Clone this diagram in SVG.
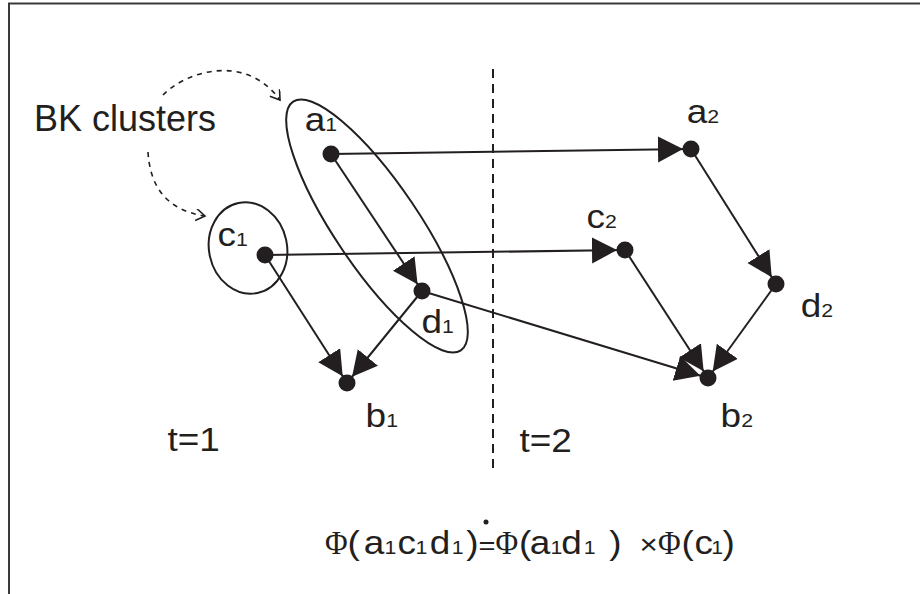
<svg xmlns="http://www.w3.org/2000/svg" width="920" height="594" viewBox="0 0 920 594">
<style>
text{font-family:"Liberation Sans",Arial,sans-serif;fill:#231f20}
.lbl{font-size:33px}
.sub{font-size:19px}
.phi{font-family:"Liberation Serif","Times New Roman",serif;font-size:31px}
.sm{font-size:28px}
.eq{font-size:26px}
.edge{stroke:#231f20;stroke-width:2;fill:none;marker-end:url(#ah)}
.dot{fill:#231f20}
.hint{stroke:#231f20;stroke-width:1.6;fill:none;stroke-dasharray:5 5;marker-end:url(#oh)}
.clu{stroke:#231f20;stroke-width:2;fill:none}
</style>
<defs>
<marker id="ah" markerUnits="userSpaceOnUse" markerWidth="40" markerHeight="30" refX="33" refY="13" orient="auto">
<path d="M0,0 L25,13 L0,26 z" fill="#231f20"/>
</marker>
<marker id="oh" markerUnits="userSpaceOnUse" markerWidth="20" markerHeight="20" refX="10" refY="6" orient="auto">
<path d="M1,0 L10,6 L1,12" fill="none" stroke="#231f20" stroke-width="1.6"/>
</marker>
</defs>
<rect width="920" height="594" fill="#fff"/>
<g id="frame" fill="none" stroke="#3a3a3a" stroke-width="2">
<path d="M9,594 V3.5 H920"/>
</g>
<g id="divider">
<line x1="493" y1="69" x2="493" y2="468" stroke="#231f20" stroke-width="2" stroke-dasharray="9 6"/>
</g>
<g id="clusters">
<ellipse class="clu" cx="377" cy="226" rx="150" ry="42" transform="rotate(56 377 226)"/>
<ellipse class="clu" cx="248" cy="248" rx="39" ry="46" transform="rotate(-12 248 248)"/>
</g>
<g id="connectors">
<line class="edge" x1="331" y1="154" x2="691" y2="149"/>
<line class="edge" x1="331" y1="154" x2="422" y2="291"/>
<line class="edge" x1="265" y1="255" x2="625" y2="250"/>
<line class="edge" x1="265" y1="255" x2="347" y2="383"/>
<line class="edge" x1="422" y1="291" x2="347" y2="383"/>
<line class="edge" x1="422" y1="291" x2="708" y2="378"/>
<line class="edge" x1="691" y1="149" x2="776" y2="284"/>
<line class="edge" x1="625" y1="250" x2="708" y2="378"/>
<line class="edge" x1="776" y1="284" x2="708" y2="378"/>
<path class="hint" d="M163,95 C185,72 245,52 280,100"/>
<path class="hint" d="M148,152 C150,185 165,210 205,216"/>
</g>
<g id="bk-label"><text x="34" y="131" style="font-size:36px">BK clusters</text></g>
<g id="a1"><circle class="dot" cx="331" cy="154" r="8.5"/><text class="lbl" transform="translate(304.7 131) scale(1.12 1)">a<tspan class="sub">1</tspan></text></g>
<g id="c1"><circle class="dot" cx="265" cy="255" r="8.5"/><text class="lbl" transform="translate(217.5 246) scale(1.12 1)">c<tspan class="sub">1</tspan></text></g>
<g id="d1"><circle class="dot" cx="422" cy="291" r="8.5"/><text class="lbl" transform="translate(421.5 333) scale(1.12 1)">d<tspan class="sub">1</tspan></text></g>
<g id="b1"><circle class="dot" cx="347" cy="383" r="8.5"/><text class="lbl" transform="translate(365.6 427) scale(1.12 1)">b<tspan class="sub">1</tspan></text></g>
<g id="a2"><circle class="dot" cx="691" cy="149" r="8.5"/><text class="lbl" transform="translate(686.7 123) scale(1.12 1)">a<tspan class="sub">2</tspan></text></g>
<g id="c2"><circle class="dot" cx="625" cy="250" r="8.5"/><text class="lbl" transform="translate(586.5 228) scale(1.12 1)">c<tspan class="sub">2</tspan></text></g>
<g id="d2"><circle class="dot" cx="776" cy="284" r="8.5"/><text class="lbl" transform="translate(800.8 317) scale(1.12 1)">d<tspan class="sub">2</tspan></text></g>
<g id="b2"><circle class="dot" cx="708" cy="378" r="8.5"/><text class="lbl" transform="translate(720.6 427) scale(1.12 1)">b<tspan class="sub">2</tspan></text></g>
<g id="t1"><text class="lbl" transform="translate(167.4 451) scale(1.12 1)">t=1</text></g>
<g id="t2"><text class="lbl" transform="translate(519.4 452) scale(1.12 1)">t=2</text></g>
<g id="formula">
<text class="phi" transform="translate(325 554) scale(1 1.12)">Φ</text>
<text class="phi" transform="translate(495.5 554) scale(1 1.12)">Φ</text>
<text class="phi" transform="translate(658 554) scale(1 1.12)">Φ</text>
<text class="lbl" transform="translate(0 554) scale(1.12 1)"><tspan x="310.2">(</tspan><tspan x="324.7">a</tspan><tspan class="sub" x="343.4">1</tspan><tspan x="354.9">c</tspan><tspan class="sub" x="371.1">1</tspan><tspan x="383.7">d</tspan><tspan class="sub" x="403.3">1</tspan><tspan x="416.2">)</tspan><tspan class="eq" x="427.2">=</tspan><tspan x="463.5">(</tspan><tspan x="473">a</tspan><tspan class="sub" x="491.5">1</tspan><tspan x="501.2">d</tspan><tspan class="sub" x="521.3">1</tspan><tspan x="543.9">)</tspan><tspan class="sm" x="571.1">×</tspan><tspan x="608.6">(</tspan><tspan x="620">c</tspan><tspan class="sub" x="635">1</tspan><tspan x="645.2">)</tspan></text>
<circle cx="486" cy="522" r="2.5" fill="#231f20"/>
</g>
</svg>
